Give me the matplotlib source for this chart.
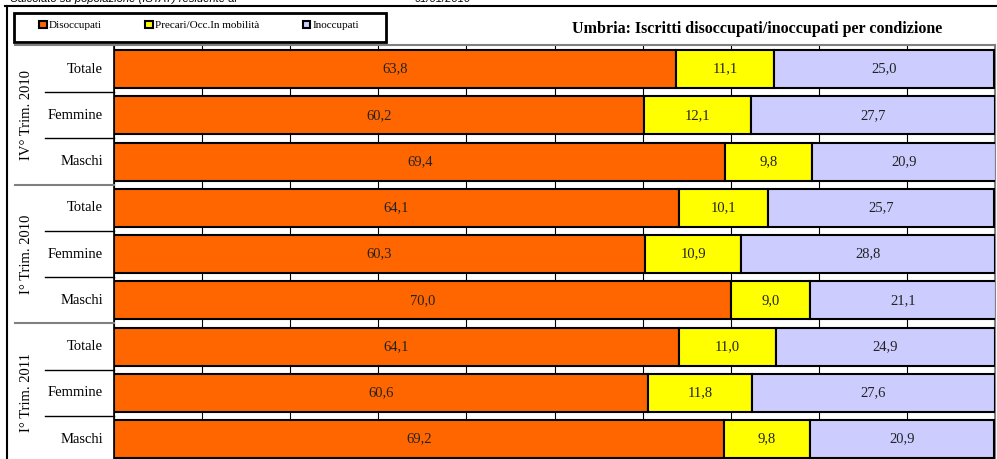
import matplotlib
matplotlib.use('Agg')
import matplotlib.pyplot as plt
from matplotlib.lines import Line2D
from matplotlib.patches import Patch, Rectangle
from matplotlib.transforms import blended_transform_factory

# data, top to bottom
groups = ['IV° Trim. 2010', 'I° Trim. 2010', 'I° Trim. 2011']
categories = ['Totale', 'Femmine', 'Maschi']
disoccupati = [63.8, 60.2, 69.4, 64.1, 60.3, 70.0, 64.1, 60.6, 69.2]
precari = [11.1, 12.1, 9.8, 10.1, 10.9, 9.0, 11.0, 11.8, 9.8]
inoccupati = [25.0, 27.7, 20.9, 25.7, 28.8, 21.1, 24.9, 27.6, 20.9]
series_names = ['Disoccupati', 'Precari/Occ.In mobilità', 'Inoccupati']
colors = ['#FF6600', '#FFFF00', '#CCCCFF']

title = 'Umbria: Iscritti disoccupati/inoccupati per condizione'

plt.rcParams['font.family'] = ['Liberation Serif', 'DejaVu Serif']

W, H = 997, 459
fig = plt.figure(figsize=(W / 100, H / 100), dpi=100)

def fx(px):
    return px / W

def fy(py):
    return 1 - py / H

ax = fig.add_axes([fx(114), 0, fx(995) - fx(114), fy(45)])

n = len(disoccupati)
ypos = list(range(n))
left = [0.0] * n
for vals, col in zip([disoccupati, precari, inoccupati], colors):
    ax.barh(ypos, vals, left=left, height=0.82, color=col,
            edgecolor='black', linewidth=1.5, zorder=3)
    for i, v in enumerate(vals):
        ax.text(left[i] + v / 2, i, f'{v:.1f}'.replace('.', ','),
                ha='center', va='center', fontsize=10.5, color='#222222', zorder=4)
    left = [l + v for l, v in zip(left, vals)]

ax.set_xlim(0, 100)
ax.set_ylim(8.43, -0.52)
ax.set_xticks(range(0, 101, 10))
ax.set_yticks([])
ax.tick_params(axis='x', length=0, labelbottom=False)
ax.grid(axis='x', color='black', linewidth=0.8)
ax.set_axisbelow(True)
ax.spines['bottom'].set_visible(False)
ax.spines['top'].set_color('#808080')
ax.spines['top'].set_linewidth(1.5)
ax.spines['right'].set_color('#808080')
ax.spines['right'].set_linewidth(1.5)
ax.spines['left'].set_color('black')
ax.spines['left'].set_linewidth(1.2)

# left label table
tr = blended_transform_factory(fig.transFigure, ax.transData)
fig.add_artist(Line2D([fx(15), fx(114)], [-0.52, -0.52], transform=tr,
                      color='#808080', lw=1.5))
for g in range(len(groups)):
    if g > 0:
        yb = g * 3 - 0.5
        fig.add_artist(Line2D([fx(15), fx(114)], [yb, yb], transform=tr,
                              color='#808080', lw=1.5))
    for k in range(1, len(categories)):
        yb = g * 3 + k - 0.5
        fig.add_artist(Line2D([fx(45), fx(114)], [yb, yb], transform=tr,
                              color='black', lw=1))
    for k, cat in enumerate(categories):
        ax.text(fx(103), g * 3 + k, cat, transform=tr, ha='right', va='center',
                fontsize=10.5)
    ax.text(fx(26), g * 3 + 1, groups[g], transform=tr, rotation=90,
            ha='center', va='center', fontsize=10.5)

# outer frame
fig.add_artist(Line2D([fx(5), 1], [fy(5.5), fy(5.5)], color='black', lw=1.5))
fig.add_artist(Line2D([fx(7), fx(7)], [fy(5.5), 0], color='black', lw=1.5))

# header line, cut off at the top edge as in the source
fig.text(fx(10), fy(1.5), 'Calcolato su popolazione (ISTAT) residente al',
         family='Liberation Sans', style='italic', fontsize=8, va='baseline')
fig.text(fx(415), fy(1.5), '01/01/2010', family='Liberation Sans',
         style='italic', fontsize=8, va='baseline')

# legend
fig.add_artist(Rectangle((fx(14), fy(42)), fx(386) - fx(14), fy(13) - fy(42),
                         fill=False, edgecolor='black', lw=2))
handles = [Patch(facecolor=c, edgecolor='black', lw=1.5) for c in colors]
fig.legend(handles, series_names, loc='center', ncol=3, frameon=False,
           bbox_to_anchor=(fx(199), fy(25.5)), fontsize=8,
           handlelength=0.7, handleheight=0.7, handletextpad=0.2,
           columnspacing=3.9, borderpad=0)

fig.text(fx(757), fy(29), title, ha='center', va='center',
         fontsize=11.5, fontweight='bold')

fig.savefig('out.png', dpi=100)
